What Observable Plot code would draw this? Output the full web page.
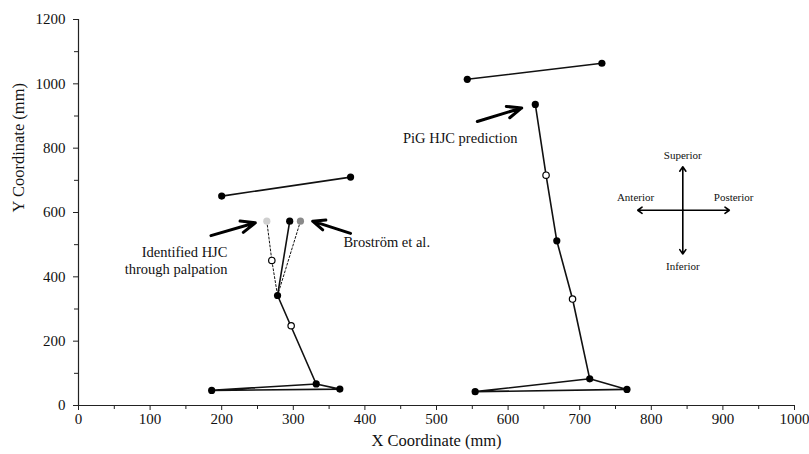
<!DOCTYPE html>
<html>
<head>
<meta charset="utf-8">
<script src="https://cdn.jsdelivr.net/npm/d3@7"></script>
<script src="https://cdn.jsdelivr.net/npm/@observablehq/plot@0.6"></script>
<style>
  html, body { margin: 0; padding: 0; background: white; }
</style>
</head>
<body>
<div id="chart"></div>
<script>
// ---- Data ----
const xMajorTicks = [0, 100, 200, 300, 400, 500, 600, 700, 800, 900, 1000];
const xMinorTicks = [50, 150, 250, 350, 450, 550, 650, 750, 850, 950];
const yMajorTicks = [0, 200, 400, 600, 800, 1000, 1200];
const yMinorTicks = [100, 300, 500, 700, 900, 1100];

// Left figure (palpation / Broström comparison)
const leftPelvis = [{x: 200, y: 651}, {x: 380, y: 710}];
const leftLimb = [{x: 295, y: 573}, {x: 278, y: 342}, {x: 332, y: 67}, {x: 365, y: 51}, {x: 186, y: 47}, {x: 332, y: 67}];
const palpationPath = [{x: 263, y: 573}, {x: 270, y: 451}, {x: 278, y: 342}];
const brostromPath = [{x: 310, y: 573}, {x: 278, y: 342}];
const leftFilled = [{x: 200, y: 651}, {x: 380, y: 710}, {x: 295, y: 573}, {x: 278, y: 342}, {x: 332, y: 67}, {x: 365, y: 51}, {x: 186, y: 47}];
const leftOpen = [{x: 270, y: 451}, {x: 297, y: 248}];
const palpationHJC = [{x: 263, y: 573}];
const brostromHJC = [{x: 310, y: 573}];

// Right figure (PiG prediction)
const rightPelvis = [{x: 543, y: 1014}, {x: 731, y: 1064}];
const rightLimb = [{x: 638, y: 936}, {x: 653, y: 716}, {x: 668, y: 512}, {x: 690, y: 331}, {x: 714, y: 83}, {x: 766, y: 50}, {x: 554, y: 43}, {x: 714, y: 83}];
const rightFilled = [{x: 543, y: 1014}, {x: 731, y: 1064}, {x: 638, y: 936}, {x: 668, y: 512}, {x: 714, y: 83}, {x: 766, y: 50}, {x: 554, y: 43}];
const rightOpen = [{x: 653, y: 716}, {x: 690, y: 331}];

// Annotations
const endLabels = [
  {x: 208, y: 453, text: "Identified HJC\nthrough palpation"},
  {x: 613, y: 832, text: "PiG HJC prediction"}
];
const startLabels = [
  {x: 370, y: 507, text: "Broström et al."}
];
const pointerArrows = [
  {x1: 185, y1: 528, x2: 247, y2: 568},
  {x1: 380, y1: 535, x2: 327, y2: 573},
  {x1: 557, y1: 883, x2: 619, y2: 925}
];

// Compass
const compassArrows = [
  {x1: 844, y1: 607, x2: 909, y2: 607},
  {x1: 844, y1: 607, x2: 781, y2: 607},
  {x1: 844, y1: 607, x2: 844, y2: 742},
  {x1: 844, y1: 607, x2: 844, y2: 471}
];
const compassLabels = [
  {x: 844, y: 776, text: "Superior"},
  {x: 844, y: 432, text: "Inferior"},
  {x: 778, y: 648, text: "Anterior"},
  {x: 915, y: 648, text: "Posterior"}
];

const xTitle = "X Coordinate (mm)";
const yTitle = "Y Coordinate (mm)";

const font = "'Liberation Serif', 'Times New Roman', serif";
const fmt = d => String(d);

const chart = Plot.plot({
  width: 809,
  height: 454,
  marginLeft: 78,
  marginRight: 15,
  marginTop: 19,
  marginBottom: 49,
  x: {domain: [0, 1000]},
  y: {domain: [0, 1200]},
  style: {fontFamily: font, fontSize: "15px", color: "#111", background: "white", overflow: "visible"},
  marks: [
    // axes
    Plot.axisX(xMajorTicks, {tickSize: 5, tickPadding: 3, tickFormat: fmt, label: null, fontSize: 15, stroke: "#222"}),
    Plot.axisX(xMinorTicks, {tickSize: 4, tickFormat: () => "", label: null, stroke: "#222"}),
    Plot.axisY(yMajorTicks, {tickSize: 5, tickPadding: 8, tickFormat: fmt, label: null, fontSize: 15, stroke: "#222"}),
    Plot.axisY(yMinorTicks, {tickSize: 4, tickFormat: () => "", label: null, stroke: "#222"}),
    Plot.ruleY([0], {stroke: "#222", strokeWidth: 1.2}),
    Plot.ruleX([0], {stroke: "#222", strokeWidth: 1.2}),
    Plot.text([xTitle], {frameAnchor: "bottom", dy: 40, fontSize: 16.5, fill: "#111"}),
    Plot.text([yTitle], {frameAnchor: "left", dx: -60, rotate: -90, fontSize: 16.5, fill: "#111"}),

    // left figure
    Plot.line(palpationPath, {x: "x", y: "y", stroke: "#111", strokeWidth: 1, strokeDasharray: "2,2"}),
    Plot.line(brostromPath, {x: "x", y: "y", stroke: "#111", strokeWidth: 1, strokeDasharray: "2,2"}),
    Plot.line(leftPelvis, {x: "x", y: "y", stroke: "#111", strokeWidth: 1.6}),
    Plot.line(leftLimb, {x: "x", y: "y", stroke: "#111", strokeWidth: 1.6, strokeLinejoin: "round"}),
    Plot.dot(leftFilled, {x: "x", y: "y", r: 3.6, fill: "#000", stroke: "none"}),
    Plot.dot(leftOpen, {x: "x", y: "y", r: 3.2, fill: "white", stroke: "#000", strokeWidth: 1.2}),
    Plot.dot(palpationHJC, {x: "x", y: "y", r: 3.6, fill: "#cfcfcf", stroke: "none"}),
    Plot.dot(brostromHJC, {x: "x", y: "y", r: 3.6, fill: "#8a8a8a", stroke: "none"}),

    // right figure
    Plot.line(rightPelvis, {x: "x", y: "y", stroke: "#111", strokeWidth: 1.6}),
    Plot.line(rightLimb, {x: "x", y: "y", stroke: "#111", strokeWidth: 1.6, strokeLinejoin: "round"}),
    Plot.dot(rightFilled, {x: "x", y: "y", r: 3.6, fill: "#000", stroke: "none"}),
    Plot.dot(rightOpen, {x: "x", y: "y", r: 3.2, fill: "white", stroke: "#000", strokeWidth: 1.2}),

    // annotations
    Plot.arrow(pointerArrows, {x1: "x1", y1: "y1", x2: "x2", y2: "y2", stroke: "#000", strokeWidth: 3, headLength: 8, headAngle: 45}),
    Plot.text(endLabels, {x: "x", y: "y", text: "text", textAnchor: "end", fontSize: 14.5, fill: "#111", lineHeight: 1.2}),
    Plot.text(startLabels, {x: "x", y: "y", text: "text", textAnchor: "start", fontSize: 14.5, fill: "#111"}),

    // compass
    Plot.arrow(compassArrows, {x1: "x1", y1: "y1", x2: "x2", y2: "y2", stroke: "#000", strokeWidth: 1.6, headLength: 5, headAngle: 70}),
    Plot.text(compassLabels, {x: "x", y: "y", text: "text", fontSize: 11, fill: "#111"})
  ]
});

document.getElementById("chart").appendChild(chart);
</script>
</body>
</html>
